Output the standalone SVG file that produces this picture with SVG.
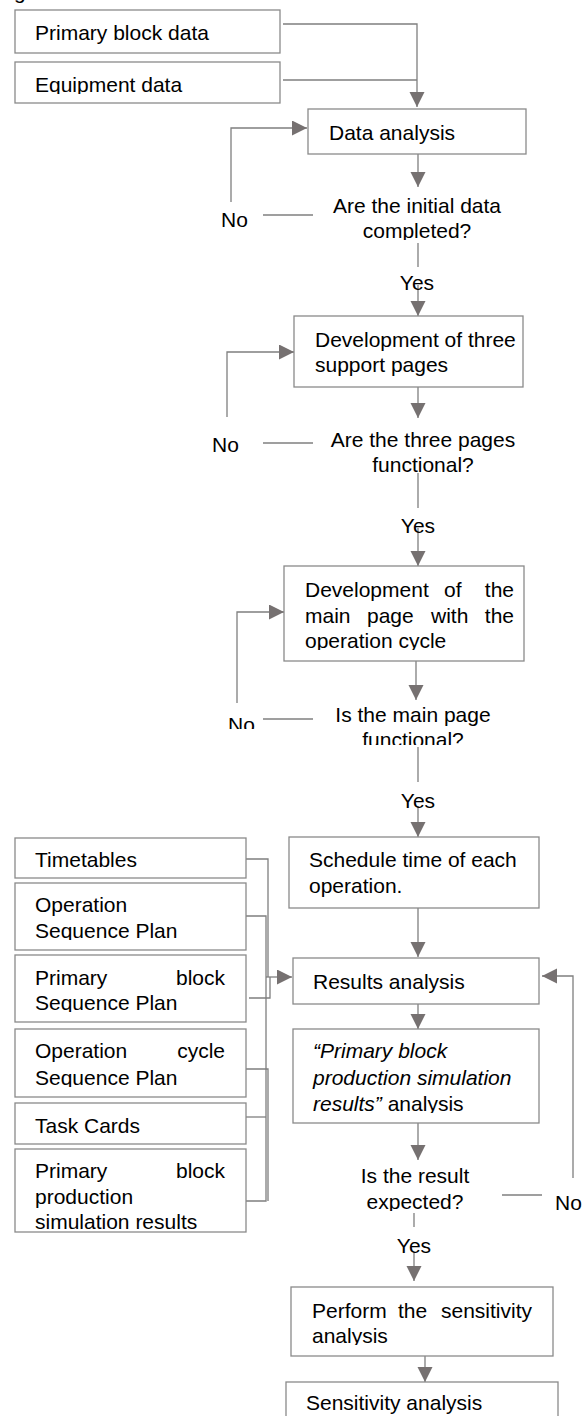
<svg xmlns="http://www.w3.org/2000/svg" width="588" height="1416" viewBox="0 0 588 1416">
<style>
.box{fill:#fff;stroke:#8a8a8a;stroke-width:1.3}
.ln{fill:none;stroke:#7f7f7f;stroke-width:1.3}
.arr{marker-end:url(#ah)}
text{font-family:"Liberation Sans",Arial,sans-serif;font-size:21px;fill:#000}
.c{text-anchor:middle}
.e{text-anchor:end}
.i{font-style:italic}
</style>
<defs>
<marker id="ah" markerUnits="userSpaceOnUse" markerWidth="16" markerHeight="16" viewBox="0 0 16 16" refX="15" refY="7.5" orient="auto">
<path d="M0,0 L15,7.5 L0,15 Z" fill="#767171"/>
</marker>
<clipPath id="cEq"><rect x="0" y="50" width="300" height="44"/></clipPath>
<clipPath id="cD1"><rect x="250" y="190" width="340" height="50"/></clipPath>
<clipPath id="cD2"><rect x="250" y="420" width="340" height="54"/></clipPath>
<clipPath id="cN5"><rect x="280" y="570" width="260" height="80"/></clipPath>
<clipPath id="cD3"><rect x="250" y="700" width="340" height="45"/></clipPath>
<clipPath id="cNo3"><rect x="200" y="700" width="60" height="29"/></clipPath>
<clipPath id="cN8"><rect x="290" y="1030" width="260" height="83"/></clipPath>
<clipPath id="cD4"><rect x="250" y="1160" width="250" height="51"/></clipPath>
<clipPath id="cNo4"><rect x="540" y="1180" width="48" height="30"/></clipPath>
<clipPath id="cN9"><rect x="290" y="1290" width="265" height="55"/></clipPath>
<clipPath id="cL2"><rect x="15" y="885" width="231" height="55"/></clipPath>
<clipPath id="cL3"><rect x="15" y="957" width="231" height="55"/></clipPath>
<clipPath id="cL4"><rect x="15" y="1031" width="231" height="56"/></clipPath>
<clipPath id="cL6"><rect x="15" y="1151" width="231" height="80"/></clipPath>
</defs>

<text x="14" y="-1.5">g</text>

<g id="connectors">
<path class="ln arr" d="M283,24 H417 V107"/>
<path class="ln" d="M283,80 H417"/>
<path class="ln arr" d="M418,154 V187"/>
<path class="ln" d="M263,215 H313"/>
<path class="ln arr" d="M231,202 V128 H307"/>
<path class="ln" d="M418,243 V267"/>
<path class="ln arr" d="M418,285 V316"/>
<path class="ln arr" d="M418,387 V418"/>
<path class="ln" d="M263,443 H313"/>
<path class="ln arr" d="M227,417 V352 H294"/>
<path class="ln" d="M418,473 V508"/>
<path class="ln arr" d="M418,528 V566"/>
<path class="ln arr" d="M416,661 V700"/>
<path class="ln" d="M263,719 H313"/>
<path class="ln arr" d="M237,703 V612 H284"/>
<path class="ln" d="M418,747 V782"/>
<path class="ln arr" d="M418,806 V837"/>
<path class="ln arr" d="M418,908 V957"/>
<path class="ln" d="M502,1195 H542"/>
<path class="ln arr" d="M573,1178 V976 H542"/>
<path class="ln arr" d="M418,1004 V1029"/>
<path class="ln arr" d="M418,1123 V1160"/>
<path class="ln" d="M414,1213 V1227"/>
<path class="ln arr" d="M414,1252 V1281"/>
<path class="ln arr" d="M425,1356 V1382"/>
<path class="ln" d="M246,859 H268 V977"/>
<path class="ln" d="M246,916 H266 V1201 H246"/>
<path class="ln" d="M249,998 H270 V977"/>
<path class="ln" d="M244,1069 H268 V1201"/>
<path class="ln" d="M246,1117 H266"/>
<path class="ln arr" d="M266,977 H292"/>
</g>

<g id="n-primary-block-data">
<rect class="box" x="15" y="10" width="265" height="43"/>
<text x="35" y="40">Primary block data</text>
</g>
<g id="n-equipment-data">
<rect class="box" x="15" y="62" width="265" height="41"/>
<text x="35" y="92" clip-path="url(#cEq)">Equipment data</text>
</g>
<g id="n-data-analysis">
<rect class="box" x="308" y="109" width="218" height="45"/>
<text x="329" y="140">Data analysis</text>
</g>
<g id="d-initial-data">
<g clip-path="url(#cD1)">
<text class="c" x="417" y="213">Are the initial data</text>
<text class="c" x="417" y="238">completed?</text>
</g>
<text x="221" y="227">No</text>
<text class="c" x="417" y="290">Yes</text>
</g>
<g id="n-support-pages">
<rect class="box" x="294" y="316" width="229" height="71"/>
<text x="315" y="347">Development of three</text>
<text x="315" y="372">support pages</text>
</g>
<g id="d-three-pages">
<g clip-path="url(#cD2)">
<text class="c" x="423" y="447">Are the three pages</text>
<text class="c" x="423" y="472">functional?</text>
</g>
<text x="212" y="452">No</text>
<text class="c" x="418" y="533">Yes</text>
</g>
<g id="n-main-page">
<rect class="box" x="284" y="566" width="240" height="95"/>
<text x="305" y="597">Development</text>
<text x="444" y="597">of</text>
<text class="e" x="514" y="597">the</text>
<text x="305" y="623">main</text>
<text x="367" y="623">page</text>
<text x="431" y="623">with</text>
<text class="e" x="514" y="623">the</text>
<text x="305" y="648" clip-path="url(#cN5)">operation cycle</text>
</g>
<g id="d-main-page">
<g clip-path="url(#cD3)">
<text class="c" x="413" y="722">Is the main page</text>
<text class="c" x="413" y="747">functional?</text>
</g>
<text x="228" y="732" clip-path="url(#cNo3)">No</text>
<text class="c" x="418" y="808">Yes</text>
</g>
<g id="n-schedule">
<rect class="box" x="289" y="837" width="250" height="71"/>
<text x="309" y="867">Schedule time of each</text>
<text x="309" y="893">operation.</text>
</g>
<g id="n-results-analysis">
<rect class="box" x="293" y="958" width="246" height="46"/>
<text x="313" y="989">Results analysis</text>
</g>
<g id="n-simulation-analysis">
<rect class="box" x="293" y="1029" width="246" height="94"/>
<g clip-path="url(#cN8)">
<text class="i" x="313" y="1058">“Primary block</text>
<text class="i" x="313" y="1085">production simulation</text>
<text x="313" y="1111"><tspan class="i">results”</tspan> analysis</text>
</g>
</g>
<g id="d-result-expected">
<g clip-path="url(#cD4)">
<text class="c" x="415" y="1183">Is the result</text>
<text class="c" x="415" y="1209">expected?</text>
</g>
<text x="555" y="1210" clip-path="url(#cNo4)">No</text>
<text class="c" x="414" y="1253">Yes</text>
</g>
<g id="n-perform-sensitivity">
<rect class="box" x="291" y="1287" width="262" height="69"/>
<text x="312" y="1318">Perform</text>
<text x="398" y="1318">the</text>
<text class="e" x="532" y="1318">sensitivity</text>
<text x="312" y="1343" clip-path="url(#cN9)">analysis</text>
</g>
<g id="n-sensitivity-analysis">
<rect class="box" x="286" y="1382" width="272" height="40"/>
<text x="306" y="1410">Sensitivity analysis</text>
</g>

<g id="in-timetables">
<rect class="box" x="15" y="838" width="231" height="40"/>
<text x="35" y="867">Timetables</text>
</g>
<g id="in-operation-sequence">
<rect class="box" x="15" y="883" width="231" height="67"/>
<g clip-path="url(#cL2)">
<text x="35" y="912">Operation</text>
<text x="35" y="938">Sequence Plan</text>
</g>
</g>
<g id="in-primary-block-sequence">
<rect class="box" x="15" y="955" width="231" height="67"/>
<g clip-path="url(#cL3)">
<text x="35" y="985">Primary</text>
<text class="e" x="225" y="985">block</text>
<text x="35" y="1010">Sequence Plan</text>
</g>
</g>
<g id="in-operation-cycle-sequence">
<rect class="box" x="15" y="1029" width="231" height="68"/>
<g clip-path="url(#cL4)">
<text x="35" y="1058">Operation</text>
<text class="e" x="225" y="1058">cycle</text>
<text x="35" y="1085">Sequence Plan</text>
</g>
</g>
<g id="in-task-cards">
<rect class="box" x="15" y="1103" width="231" height="41"/>
<text x="35" y="1133">Task Cards</text>
</g>
<g id="in-simulation-results">
<rect class="box" x="15" y="1149" width="231" height="83"/>
<g clip-path="url(#cL6)">
<text x="35" y="1178">Primary</text>
<text class="e" x="225" y="1178">block</text>
<text x="35" y="1204">production</text>
<text x="35" y="1229">simulation results</text>
</g>
</g>
</svg>
